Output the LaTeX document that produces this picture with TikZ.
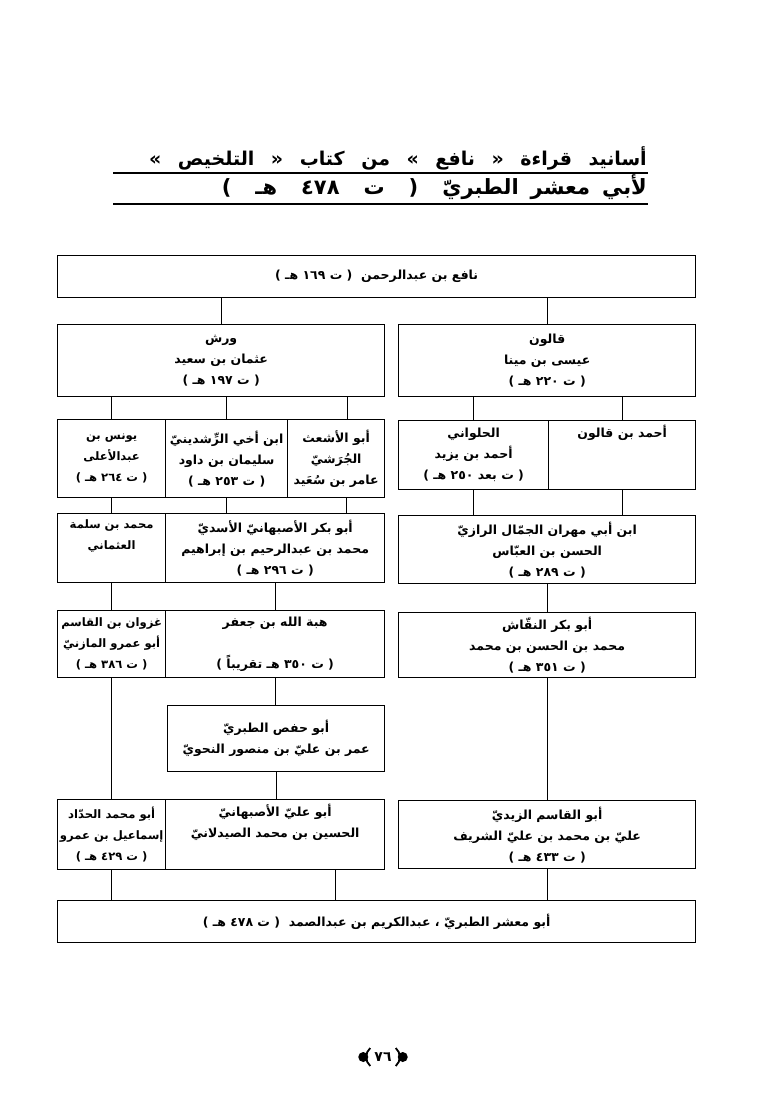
\documentclass[tikz,border=0pt]{standalone}
\usepackage{fontspec}
\newfontfamily\arabicfont[Script=Arabic]{DejaVu Sans}
\TeXXeTstate=1
\newcommand{\arline}[1]{\beginR #1\endR}
\tikzset{
  isnad/.style={draw, line width=1.3pt, anchor=north west, align=center, inner sep=0pt,
    font=\arabicfont\bfseries\fontsize{12.5}{21}\selectfont},
  narrow/.style={isnad, font=\arabicfont\bfseries\fontsize{11.6}{21}\selectfont},
  link/.style={line width=0.8pt},
  titleline/.style={anchor=base east, inner sep=0pt, font=\arabicfont\bfseries\fontsize{19}{22}\selectfont}
}

\begin{document}
\begin{tikzpicture}[x=1pt, y=-1pt]
                \useasboundingbox (0,0) rectangle (765,1099);
                \node[titleline] (title1) at (647,166) {\spaceskip=16.5pt\arline{أسانيد قراءة « نافع » من كتاب « التلخيص »}};
                \node[titleline, font=\arabicfont\bfseries\fontsize{21}{24}\selectfont] (title2) at (647,195)
                    {\spaceskip=12pt\arline{لأبي معشر الطبريّ\hspace{24pt}(\hspace{24pt}ت\hspace{24pt}٤٧٨\hspace{24pt}هـ\hspace{24pt})}};
                \draw[line width=2pt] (113,173) -- (648,173);
                \draw[line width=2.4pt] (113,204) -- (648,204);

                \node[isnad, minimum width=638pt, minimum height=42pt] (nafi) at (57,255)
                    {\arline{نافع بن عبدالرحمن \ ( ت ١٦٩ هـ )}};

                \node[isnad, minimum width=327pt, minimum height=72pt] (warsh) at (57,324)
                    {\arline{ورش}\\\arline{عثمان بن سعيد}\\\arline{( ت ١٩٧ هـ )}};
                \node[isnad, minimum width=297pt, minimum height=72pt] (qalun) at (398,324)
                    {\arline{قالون}\\\arline{عيسى بن مينا}\\\arline{( ت ٢٢٠ هـ )}};

                \node[narrow, minimum width=108pt, minimum height=78pt] (yunus) at (57,419)
                    {\arline{يونس بن}\\\arline{عبدالأعلى}\\\arline{( ت ٢٦٤ هـ )}};
                \node[isnad, minimum width=122pt, minimum height=78pt] (rushdini) at (165,419)
                    {\arline{ابن أخي الرِّشدينيّ}\\\arline{سليمان بن داود}\\\arline{( ت ٢٥٣ هـ )}};
                \node[isnad, minimum width=97pt, minimum height=78pt] (ashath) at (287,419)
                    {\arline{أبو الأشعث}\\\arline{الجُرَشيّ}\\\arline{عامر بن سُعَيد}};
                \node[isnad, minimum width=150pt, minimum height=69pt] (hulwani) at (398,420)
                    {\arline{الحلواني}\\\arline{أحمد بن يزيد}\\\arline{( ت بعد ٢٥٠ هـ )}};
                \node[isnad, minimum width=147pt, minimum height=69pt] (ahmad) at (548,420)
                    {\arline{أحمد بن قالون}\\\strut\\\strut};

                \node[narrow, minimum width=108pt, minimum height=69pt] (ibnsalama) at (57,513)
                    {\arline{محمد بن سلمة}\\\arline{العثماني}\\\strut};
                \node[isnad, minimum width=219pt, minimum height=69pt] (asbahani) at (165,513)
                    {\arline{أبو بكر الأصبهانيّ الأسديّ}\\\arline{محمد بن عبدالرحيم بن إبراهيم}\\\arline{( ت ٢٩٦ هـ )}};
                \node[isnad, minimum width=297pt, minimum height=68pt] (mihran) at (398,515)
                    {\arline{ابن أبي مهران الجمّال الرازيّ}\\\arline{الحسن بن العبّاس}\\\arline{( ت ٢٨٩ هـ )}};

                \node[narrow, minimum width=108pt, minimum height=67pt] (ghazwan) at (57,610)
                    {\arline{غزوان بن القاسم}\\\arline{أبو عمرو المازنيّ}\\\arline{( ت ٣٨٦ هـ )}};
                \node[isnad, minimum width=219pt, minimum height=67pt] (hibat) at (165,610)
                    {\arline{هبة الله بن جعفر}\\\strut\\\arline{( ت ٣٥٠ هـ تقريباً )}};
                \node[isnad, minimum width=297pt, minimum height=65pt] (naqqash) at (398,612)
                    {\arline{أبو بكر النقّاش}\\\arline{محمد بن الحسن بن محمد}\\\arline{( ت ٣٥١ هـ )}};

                \node[isnad, minimum width=217pt, minimum height=66pt] (abuhafs) at (167,705)
                    {\arline{أبو حفص الطبريّ}\\\arline{عمر بن عليّ بن منصور النحويّ}};

                \node[narrow, minimum width=108pt, minimum height=70pt] (haddad) at (57,799)
                    {\arline{أبو محمد الحدّاد}\\\arline{إسماعيل بن عمرو}\\\arline{( ت ٤٢٩ هـ )}};
                \node[isnad, minimum width=219pt, minimum height=70pt] (abuali) at (165,799)
                    {\arline{أبو عليّ الأصبهانيّ}\\\arline{الحسين بن محمد الصيدلانيّ}\\\strut};
                \node[isnad, minimum width=297pt, minimum height=68pt] (zaydi) at (398,800)
                    {\arline{أبو القاسم الزيديّ}\\\arline{عليّ بن محمد بن عليّ الشريف}\\\arline{( ت ٤٣٣ هـ )}};

                \node[isnad, minimum width=638pt, minimum height=42pt] (mashar) at (57,900)
                    {\arline{أبو معشر الطبريّ ، عبدالكريم بن عبدالصمد \ ( ت ٤٧٨ هـ )}};

                \draw[link] (nafi.south -| warsh.north) -- (warsh.north);
                \draw[link] (nafi.south -| qalun.north) -- (qalun.north);
                \draw[link] (warsh.south -| yunus.north) -- (yunus.north);
                \draw[link] (warsh.south -| rushdini.north) -- (rushdini.north);
                \draw[link] ([xshift=11pt]ashath.north |- warsh.south) -- ([xshift=11pt]ashath.north);
                \draw[link] (qalun.south -| hulwani.north) -- (hulwani.north);
                \draw[link] (qalun.south -| ahmad.north) -- (ahmad.north);
                \draw[link] (yunus.south) -- (yunus.south |- ibnsalama.north);
                \draw[link] (rushdini.south) -- (rushdini.south |- asbahani.north);
                \draw[link] ([xshift=10pt]ashath.south) -- ([xshift=10pt]ashath.south |- asbahani.north);
                \draw[link] (hulwani.south) -- (hulwani.south |- mihran.north);
                \draw[link] (ahmad.south) -- (ahmad.south |- mihran.north);
                \draw[link] (ibnsalama.south) -- (ghazwan.north);
                \draw[link] (asbahani.south) -- (hibat.north);
                \draw[link] (mihran.south) -- (naqqash.north);
                \draw[link] (ghazwan.south) -- (haddad.north);
                \draw[link] (hibat.south) -- (hibat.south |- abuhafs.north);
                \draw[link] (naqqash.south) -- (zaydi.north);
                \draw[link] (abuhafs.south) -- (abuhafs.south |- abuali.north);
                \draw[link] (haddad.south) -- (haddad.south |- mashar.north);
                \draw[link] ([xshift=60pt]abuali.south) -- ([xshift=60pt]abuali.south |- mashar.north);
                \draw[link] (zaydi.south) -- (zaydi.south |- mashar.north);

                \node[font=\arabicfont\bfseries\fontsize{14}{16}\selectfont, inner sep=1pt] (page) at (383,1057) {\arline{٧٦}};
                \fill ([xshift=-10pt]page.west) circle (5pt);
                \draw[line width=1.8pt] ([xshift=-3pt,yshift=9pt]page.west) to[bend right=50] ([xshift=-3pt,yshift=-9pt]page.west);
                \fill ([xshift=10pt]page.east) circle (5pt);
                \draw[line width=1.8pt] ([xshift=3pt,yshift=9pt]page.east) to[bend left=50] ([xshift=3pt,yshift=-9pt]page.east);
            \end{tikzpicture}
\end{document}
